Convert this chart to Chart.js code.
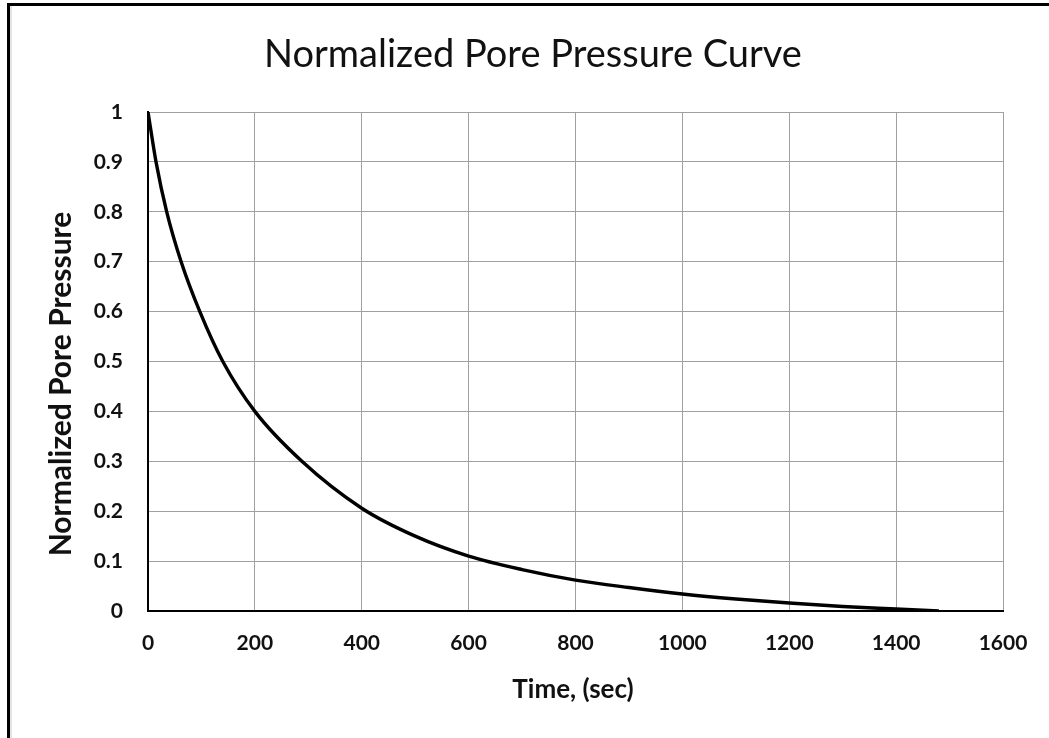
<!DOCTYPE html>
<html>
<head>
<meta charset="utf-8">
<script src="https://cdn.jsdelivr.net/npm/chart.js@4"></script>
<style>
  html, body { margin: 0; padding: 0; background: #fff; overflow: hidden; }
  #wrap { position: relative; width: 1049px; height: 738px; }
  #frame {
    position: absolute; left: 7px; top: 3px; width: 1100px; height: 800px;
    border-left: 3px solid #000; border-top: 3px solid #000;
    box-shadow: inset 2px 0 0 #e4e4e4;
    pointer-events: none;
  }
</style>
</head>
<body>
<div id="wrap">
  <canvas id="chart" width="1049" height="738"></canvas>
  <div id="frame"></div>
</div>
<script>
// Consolidation test: elapsed time (s) and normalized pore pressure
const timeSec  = [0, 15, 35, 62, 97, 140, 200, 288, 400, 500, 600, 700, 800, 900, 1000, 1100, 1200, 1300, 1400, 1480];
const pressure = [1.0, 0.9, 0.8, 0.7, 0.6, 0.5, 0.4, 0.3, 0.206, 0.15, 0.11, 0.083, 0.062, 0.047, 0.034, 0.024, 0.016, 0.009, 0.004, 0.0];

const xTickLabels = ['0', '200', '400', '600', '800', '1000', '1200', '1400', '1600'];
const yTickLabels = ['0', '0.1', '0.2', '0.3', '0.4', '0.5', '0.6', '0.7', '0.8', '0.9', '1'];

const chartTitle = 'Normalized Pore Pressure Curve';
const xAxisTitle = 'Time, (sec)';
const yAxisTitle = 'Normalized Pore Pressure';

const FONT = 'Lato, Calibri, "Open Sans", sans-serif';

// Titles drawn on top of the canvas
const titlesPlugin = {
  id: 'titles',
  afterDraw(chart) {
    const ctx = chart.ctx;
    ctx.save();
    ctx.fillStyle = '#111';
    ctx.textAlign = 'center';
    ctx.textBaseline = 'middle';
    ctx.font = '400 38px ' + FONT;
    ctx.fillText(chartTitle, 533, 55);
    ctx.font = '700 26px ' + FONT;
    ctx.fillText(xAxisTitle, 573, 690);
    ctx.translate(61, 384);
    ctx.rotate(-Math.PI / 2);
    ctx.font = '700 30px ' + FONT;
    ctx.fillText(yAxisTitle, 0, 0);
    ctx.restore();
  }
};

const points = timeSec.map((t, i) => ({ x: t, y: pressure[i] }));

new Chart(document.getElementById('chart'), {
  type: 'line',
  data: {
    datasets: [{
      data: points,
      borderColor: '#000',
      borderWidth: 3.4,
      pointRadius: 0,
      fill: false,
      cubicInterpolationMode: 'monotone'
    }]
  },
  options: {
    responsive: false,
    animation: false,
    events: [],
    layout: { padding: { left: 8, right: 46, top: 112, bottom: 0 } },
    plugins: { legend: { display: false }, tooltip: { enabled: false }, title: { display: false } },
    scales: {
      x: {
        type: 'linear',
        min: 0, max: 1600,
        afterFit(scale) { scale.height = 127; },
        grid: { color: '#a0a0a0', lineWidth: 1, drawTicks: false },
        border: { color: '#000', width: 2 },
        ticks: {
          stepSize: 200,
          padding: 20,
          color: '#111',
          font: { family: FONT, size: 21, weight: '700' },
          callback: (v, i) => xTickLabels[i]
        }
      },
      y: {
        min: 0, max: 1,
        afterFit(scale) { scale.width = 140; },
        grid: { color: '#a0a0a0', lineWidth: 1, drawTicks: false },
        border: { color: '#000', width: 2 },
        ticks: {
          stepSize: 0.1,
          padding: 25,
          color: '#111',
          font: { family: FONT, size: 21, weight: '700' },
          callback: (v, i) => yTickLabels[i]
        }
      }
    }
  },
  plugins: [titlesPlugin]
});
</script>
</body>
</html>
